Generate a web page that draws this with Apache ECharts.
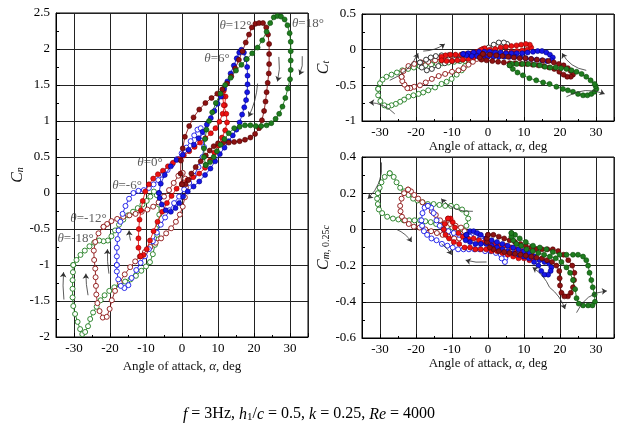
<!DOCTYPE html>
<html><head><meta charset="utf-8">
<script src="https://cdn.jsdelivr.net/npm/echarts@6/dist/echarts.min.js"></script>
<style>html,body{margin:0;padding:0;background:#fff}#c{width:618px;height:430px}</style>
</head><body><div id="c"></div><script>
// ---------- axis ranges / ticks ----------
const alphaRange = [-35, 35];
const alphaTicks = [-30, -20, -10, 0, 10, 20, 30];
const cnRange = [-2, 2.5, 0.5];
const ctRange = [-1, 0.5, 0.5];
const cmRange = [-0.6, 0.4, 0.2];

// ---------- Cn vs alpha loops ----------
const cnTheta18 = [[6.6,0.39],[6.1,0.5],[6.1,0.62],[6.4,0.75],[6.8,0.88],[7.5,1.0],[8.4,1.12],[9.4,1.25],[10.7,1.38],[12,1.5],[13.5,1.6],[15,1.7],[16.5,1.78],[18,1.86],[19.5,1.94],[21,2.02],[22.3,2.12],[23.5,2.24],[24.5,2.36],[25.5,2.44],[26.5,2.46],[27.5,2.45],[28.5,2.41],[29.3,2.33],[29.9,2.22],[30.2,2.1],[30.2,1.97],[30.2,1.84],[30.2,1.71],[30,1.58],[29.4,1.45],[28.7,1.32],[27.9,1.2],[27,1.1],[26,1.03],[24.8,0.97],[23.5,0.94],[22,0.93],[20.5,0.93],[19,0.94],[17.5,0.94],[16,0.92],[14.5,0.9],[13,0.83],[11.8,0.75],[10.7,0.67],[9.7,0.58],[8.8,0.5],[7.8,0.43],[6.6,0.39]];
const cnTheta12 = [[0,0.12],[-0.4,0.27],[-0.3,0.45],[0.2,0.62],[0.8,0.78],[2,0.93],[3.2,1.05],[4.8,1.16],[6.5,1.25],[8.2,1.32],[9.8,1.38],[11.2,1.44],[12.5,1.52],[13.7,1.62],[14.8,1.73],[15.8,1.85],[16.8,1.97],[17.7,2.09],[18.6,2.2],[19.4,2.3],[20.4,2.35],[21.4,2.36],[22.5,2.36],[23.4,2.3],[23.9,2.2],[24.2,2.07],[24.2,1.93],[24.2,1.79],[24.1,1.66],[23.8,1.53],[23.5,1.4],[23.2,1.27],[22.8,1.14],[22.2,1.01],[21.4,0.9],[20.3,0.82],[19,0.77],[17.5,0.74],[16,0.72],[14.5,0.71],[13,0.7],[11.5,0.7],[10,0.69],[8.8,0.65],[7.7,0.59],[6.6,0.52],[5.2,0.44],[3.8,0.36],[2.6,0.27],[1.8,0.18],[1,0.12],[0,0.12]];
const cnTheta6 = [[-6.4,0],[-5.9,0.13],[-4.8,0.25],[-3.1,0.37],[-1.5,0.46],[0.2,0.53],[1.8,0.6],[3.3,0.67],[4.6,0.76],[5.7,0.85],[6.9,0.95],[8,1.04],[9,1.14],[9.9,1.24],[10.8,1.34],[11.7,1.45],[12.6,1.55],[13.5,1.66],[14.4,1.77],[15.2,1.87],[15.9,1.95],[16.5,1.99],[17.2,1.95],[17.8,1.86],[18.1,1.75],[18.2,1.63],[18.2,1.51],[18.1,1.4],[17.8,1.29],[17.3,1.19],[16.7,1.09],[16,0.98],[15.1,0.88],[14.1,0.8],[13,0.72],[11.8,0.63],[10.5,0.54],[9.2,0.44],[7.9,0.34],[6.4,0.25],[4.8,0.16],[3.2,0.09],[1.6,0.02],[0.3,-0.05],[-0.8,-0.14],[-1.8,-0.21],[-3.1,-0.26],[-4.5,-0.24],[-5.6,-0.16],[-6.2,-0.07],[-6.4,0]];
const cnTheta0 = [[-11.5,-0.88],[-12.1,-0.76],[-12.1,-0.63],[-12,-0.5],[-11.8,-0.37],[-11.4,-0.24],[-10.9,-0.11],[-10.2,0.02],[-9.2,0.12],[-8,0.2],[-6.7,0.26],[-5.3,0.31],[-3.9,0.37],[-2.5,0.42],[-1,0.47],[0.5,0.52],[2,0.58],[3.5,0.64],[5,0.7],[6.5,0.76],[8,0.83],[9.3,0.9],[10.4,0.99],[11.3,1.1],[11.9,1.22],[12.1,1.34],[11.6,1.42],[11.3,1.34],[11.6,1.22],[12.3,1.1],[12.5,0.98],[12,0.87],[11.1,0.77],[10.1,0.66],[9,0.56],[7.8,0.45],[6.4,0.35],[4.8,0.27],[3.1,0.22],[1.5,0.18],[0,0.13],[-1.5,0.06],[-2.9,-0.04],[-4.2,-0.14],[-5.5,-0.26],[-6.8,-0.4],[-7.9,-0.53],[-8.9,-0.66],[-9.8,-0.78],[-10.7,-0.86],[-11.5,-0.88]];
const cnThetaM6 = [[-18.1,-1.0],[-18.1,-0.88],[-18.1,-0.76],[-17.9,-0.64],[-17.6,-0.52],[-17.1,-0.4],[-16.5,-0.29],[-15.7,-0.18],[-14.7,-0.08],[-13.5,0.0],[-12.1,0.03],[-10.6,0.04],[-9.2,0.07],[-7.9,0.12],[-6.6,0.18],[-5.3,0.25],[-4,0.32],[-2.7,0.4],[-1.4,0.47],[-0.1,0.55],[1.2,0.63],[2.4,0.72],[3.4,0.8],[4.3,0.88],[5.2,0.9],[5.9,0.78],[6.1,0.64],[5.7,0.5],[4.6,0.36],[3.3,0.24],[2,0.14],[0.6,0.05],[-0.8,-0.05],[-2.2,-0.14],[-3.5,-0.24],[-4.7,-0.34],[-5.9,-0.44],[-7,-0.55],[-8.1,-0.67],[-9.2,-0.78],[-10.3,-0.88],[-11.5,-0.97],[-12.7,-1.07],[-14,-1.18],[-14.9,-1.28],[-16,-1.32],[-17,-1.29],[-17.7,-1.2],[-18.1,-1.09],[-18.1,-1.0]];
const cnThetaM12 = [[-21.8,-0.47],[-23.2,-0.56],[-24.1,-0.68],[-24.5,-0.8],[-24.4,-0.93],[-24.1,-1.05],[-24,-1.17],[-23.9,-1.29],[-23.8,-1.41],[-23.5,-1.53],[-22.9,-1.64],[-22,-1.73],[-20.9,-1.72],[-20.1,-1.61],[-19.5,-1.49],[-18.6,-1.36],[-17.3,-1.24],[-15.9,-1.13],[-14.4,-1.03],[-13,-0.95],[-11.7,-0.88],[-10.3,-0.82],[-8.8,-0.75],[-7.3,-0.69],[-5.8,-0.63],[-4.4,-0.56],[-3,-0.49],[-1.7,-0.4],[-0.6,-0.3],[0.2,-0.19],[0.8,-0.06],[1.1,0.08],[0.9,0.2],[0.2,0.28],[-1,0.24],[-2.3,0.14],[-3.6,0.04],[-5,-0.05],[-6.5,-0.13],[-8,-0.19],[-9.6,-0.23],[-11.2,-0.26],[-12.9,-0.29],[-14.6,-0.31],[-16.3,-0.33],[-18,-0.36],[-19.6,-0.39],[-20.8,-0.43],[-21.8,-0.47]];
const cnThetaM18 = [[-30.2,-1.0],[-30.3,-1.1],[-30.4,-1.21],[-30.4,-1.33],[-30.4,-1.45],[-30.2,-1.57],[-29.7,-1.68],[-29,-1.79],[-28.3,-1.89],[-27.7,-1.96],[-26.9,-1.93],[-26.1,-1.85],[-25.5,-1.75],[-24.7,-1.66],[-23.7,-1.58],[-22.6,-1.49],[-21.5,-1.42],[-20.2,-1.36],[-18.8,-1.31],[-17.3,-1.27],[-15.8,-1.23],[-14.3,-1.2],[-12.8,-1.15],[-11.3,-1.08],[-10,-1.02],[-8.9,-0.96],[-8.1,-0.85],[-7.5,-0.72],[-6.9,-0.58],[-6.5,-0.44],[-6.3,-0.3],[-6.4,-0.16],[-7,-0.03],[-7.8,0.02],[-8.8,-0.05],[-9.8,-0.11],[-11,-0.16],[-12.3,-0.21],[-13.6,-0.26],[-15,-0.31],[-16.3,-0.37],[-17.5,-0.44],[-18.6,-0.52],[-19.6,-0.6],[-20.6,-0.66],[-21.8,-0.67],[-23,-0.66],[-24.4,-0.69],[-25.7,-0.74],[-27,-0.8],[-28.2,-0.86],[-29.3,-0.93],[-30.2,-1.0]];

// ---------- Ct vs alpha loops ----------
const ctThetaM18 = [[-30.5,-0.55],[-30,-0.47],[-29.3,-0.42],[-28.2,-0.38],[-26.8,-0.35],[-25.3,-0.32],[-23.8,-0.29],[-22.2,-0.27],[-20.6,-0.25],[-19,-0.23],[-17.4,-0.22],[-15.8,-0.21],[-14.2,-0.2],[-12.6,-0.19],[-11,-0.18],[-9.4,-0.17],[-7.8,-0.16],[-6.3,-0.16],[-5.4,-0.19],[-6.4,-0.23],[-7.3,-0.29],[-8.7,-0.35],[-10.1,-0.41],[-11.5,-0.45],[-12.9,-0.48],[-14.7,-0.53],[-16.6,-0.57],[-18,-0.6],[-19.3,-0.62],[-20.7,-0.64],[-22.1,-0.66],[-23.3,-0.7],[-24.4,-0.73],[-25.6,-0.76],[-26.8,-0.78],[-27.8,-0.8],[-28.8,-0.78],[-29.9,-0.72],[-30.5,-0.64],[-30.5,-0.55]];
const ctThetaM12 = [[-24,-0.38],[-23.5,-0.3],[-22.1,-0.23],[-20.5,-0.2],[-18.5,-0.18],[-16.6,-0.17],[-14.7,-0.15],[-12.9,-0.13],[-11,-0.12],[-9.2,-0.11],[-7.4,-0.09],[-5.6,-0.07],[-3.8,-0.04],[-2.2,-0.01],[-1.4,0.01],[-1.8,-0.04],[-3.1,-0.13],[-4.2,-0.17],[-5.4,-0.21],[-6.8,-0.26],[-8.2,-0.29],[-10,-0.31],[-11.9,-0.34],[-13.7,-0.37],[-15.6,-0.41],[-17.3,-0.46],[-18.9,-0.5],[-20.5,-0.52],[-21.6,-0.54],[-22.4,-0.54],[-23.2,-0.49],[-23.8,-0.44],[-24,-0.38]];
const ctThetaM6 = [[-18.9,-0.18],[-18.4,-0.25],[-17,-0.29],[-15.6,-0.27],[-13.8,-0.23],[-12,-0.19],[-10,-0.16],[-8,-0.14],[-6,-0.12],[-4,-0.1],[-2,-0.08],[0,-0.06],[1.8,-0.03],[3.4,0.0],[4.8,0.04],[5.3,0.08],[4.4,0.1],[3,0.1],[1.6,0.07],[0.2,0.03],[-1.5,-0.01],[-3.4,-0.04],[-5.3,-0.06],[-7.2,-0.07],[-9.1,-0.08],[-11,-0.08],[-12.9,-0.08],[-14.5,-0.09],[-15.9,-0.11],[-17.2,-0.14],[-18.9,-0.18]];
const ctTheta0 = [[-12.9,-0.15],[-11.5,-0.16],[-10,-0.16],[-8.5,-0.15],[-7,-0.14],[-5.5,-0.13],[-4,-0.11],[-2.5,-0.1],[-1,-0.08],[0.5,-0.07],[2,-0.06],[3.5,-0.05],[5,-0.04],[6.5,-0.03],[8,-0.02],[9.5,-0.01],[10.9,0.0],[12,0.03],[11.6,0.07],[10.5,0.08],[9.2,0.07],[7.9,0.06],[6.5,0.05],[5,0.04],[3.5,0.03],[2,0.01],[0.5,0.0],[-0.9,0.02],[-1.8,0.0],[-3,-0.03],[-4.5,-0.05],[-6,-0.06],[-7.5,-0.07],[-9,-0.07],[-10.5,-0.07],[-11.8,-0.08],[-12.9,-0.1],[-12.9,-0.15]];
const ctTheta6 = [[-6.9,-0.06],[-5.5,-0.05],[-4,-0.04],[-2.5,-0.03],[-1,-0.03],[0.5,-0.03],[2,-0.04],[3.5,-0.04],[5,-0.05],[6.5,-0.05],[8,-0.05],[9.5,-0.05],[11,-0.04],[12.5,-0.03],[13.8,-0.02],[15,-0.02],[16.2,-0.04],[17.2,-0.07],[18,-0.11],[17.6,-0.15],[16.4,-0.16],[15,-0.15],[13.5,-0.14],[12,-0.13],[10.5,-0.12],[9,-0.11],[7.5,-0.1],[6,-0.1],[4.5,-0.1],[3,-0.1],[1.5,-0.1],[0,-0.1],[-1.5,-0.1],[-3,-0.09],[-4.5,-0.09],[-6,-0.08],[-6.9,-0.06]];
const ctTheta12 = [[-1.4,-0.06],[0.5,-0.07],[2.3,-0.08],[4,-0.09],[5.6,-0.1],[7.2,-0.11],[8.8,-0.12],[10.4,-0.12],[12,-0.13],[13.6,-0.14],[15.2,-0.15],[16.8,-0.16],[18.3,-0.18],[19.7,-0.2],[21,-0.22],[22.2,-0.26],[23,-0.3],[23.6,-0.35],[23,-0.38],[22,-0.38],[21,-0.35],[19.8,-0.31],[18.4,-0.27],[17,-0.25],[15.5,-0.23],[14,-0.22],[12.4,-0.21],[10.8,-0.2],[9.2,-0.2],[7.6,-0.19],[6,-0.19],[4.4,-0.18],[2.8,-0.17],[1.2,-0.16],[-0.4,-0.15],[-1.8,-0.14],[-2.3,-0.11],[-1.4,-0.06]];
const ctTheta18 = [[6,-0.22],[6.9,-0.27],[8.2,-0.32],[9.7,-0.36],[11.5,-0.4],[13.4,-0.43],[15.3,-0.46],[17.1,-0.48],[19,-0.52],[20.8,-0.55],[22.2,-0.57],[23.6,-0.59],[25,-0.62],[26.4,-0.64],[27.6,-0.64],[28.7,-0.62],[29.6,-0.59],[30.1,-0.55],[29.9,-0.51],[29.6,-0.48],[28.5,-0.43],[27.3,-0.38],[26,-0.34],[24.6,-0.31],[23.2,-0.29],[21.8,-0.27],[20.3,-0.26],[18.8,-0.25],[17.3,-0.25],[15.8,-0.24],[14.4,-0.22],[12.8,-0.21],[11.2,-0.2],[9.6,-0.2],[8,-0.2],[6.6,-0.2],[6,-0.22]];

// ---------- Cm,0.25c vs alpha loops ----------
const cmThetaM18 = [[-27.3,0.31],[-28.7,0.29],[-29.6,0.26],[-30.1,0.23],[-30.6,0.2],[-30.8,0.17],[-30.6,0.14],[-30.3,0.11],[-29.4,0.09],[-28,0.07],[-26.4,0.06],[-24.9,0.055],[-23.4,0.05],[-21.9,0.05],[-20.4,0.05],[-18.9,0.05],[-17.4,0.045],[-15.9,0.04],[-14.4,0.03],[-12.9,0.02],[-11.4,0.015],[-9.9,0.01],[-8.4,0.005],[-7,0.0],[-6,0.02],[-5.5,0.06],[-6,0.09],[-7.2,0.11],[-8.7,0.125],[-10.3,0.13],[-11.9,0.13],[-13.5,0.135],[-15.1,0.14],[-16.7,0.14],[-18.2,0.15],[-19.6,0.16],[-20.8,0.17],[-22.1,0.19],[-23.3,0.21],[-24.4,0.23],[-25.4,0.26],[-26.2,0.29],[-27.3,0.31]];
const cmThetaM12 = [[-22.2,0.22],[-23.3,0.2],[-24,0.17],[-24.4,0.13],[-24.3,0.1],[-23.9,0.07],[-23.1,0.05],[-22,0.03],[-20.6,0.015],[-19,0.01],[-17.4,0.0],[-15.8,-0.01],[-14.2,-0.02],[-12.6,-0.03],[-11,-0.04],[-9.4,-0.05],[-8,-0.05],[-6.8,-0.04],[-6.5,-0.01],[-7.5,0.01],[-9,0.02],[-10.5,0.03],[-12,0.035],[-13.3,0.05],[-14.5,0.08],[-15.6,0.1],[-16.9,0.13],[-18.2,0.15],[-19.4,0.17],[-20.5,0.19],[-21.4,0.21],[-22.2,0.22]];
const cmThetaM6 = [[-16.7,0.13],[-17.6,0.12],[-18.2,0.09],[-18.5,0.05],[-18.3,0.02],[-17.8,-0.01],[-16.9,-0.03],[-15.7,-0.05],[-14.3,-0.06],[-12.8,-0.08],[-11.3,-0.09],[-9.8,-0.1],[-8.3,-0.11],[-6.8,-0.11],[-5.3,-0.11],[-3.8,-0.11],[-2.3,-0.11],[-0.8,-0.12],[0.7,-0.12],[2.2,-0.13],[3.6,-0.14],[4.8,-0.16],[4.7,-0.18],[3.8,-0.16],[2.4,-0.1],[1,-0.07],[-0.5,-0.05],[-2,-0.04],[-3.5,-0.04],[-5,-0.04],[-6.5,-0.04],[-8,-0.03],[-9.5,-0.02],[-11,-0.01],[-12.3,0.0],[-13.4,0.02],[-14.3,0.05],[-15.1,0.09],[-15.8,0.12],[-16.7,0.13]];
const cmTheta0 = [[-11.1,0.06],[-12,0.03],[-12.3,0.0],[-11.8,-0.03],[-10.8,-0.05],[-9.5,-0.07],[-8,-0.08],[-6.5,-0.1],[-5,-0.1],[-3.5,-0.11],[-2,-0.11],[-0.5,-0.11],[1,-0.12],[2.5,-0.12],[4,-0.13],[5.5,-0.14],[7,-0.15],[8.5,-0.16],[10,-0.16],[11.5,-0.17],[12.5,-0.16],[12.2,-0.14],[11,-0.13],[9.5,-0.12],[8,-0.11],[6.5,-0.1],[5,-0.09],[3.5,-0.09],[2,-0.08],[0.5,-0.08],[-1,-0.07],[-2.5,-0.06],[-4,-0.05],[-5.5,-0.05],[-7,-0.04],[-8.2,-0.02],[-9.2,0.01],[-9.8,0.04],[-10.4,0.06],[-11.1,0.06]];
const cmTheta6 = [[-6,-0.03],[-5,-0.01],[-4,-0.01],[-3,-0.02],[-2,-0.03],[-0.5,-0.05],[1,-0.06],[2.5,-0.07],[4,-0.08],[5.5,-0.09],[7,-0.1],[8.5,-0.11],[10,-0.12],[11.5,-0.13],[13,-0.15],[14.3,-0.17],[15.7,-0.18],[17,-0.19],[17.6,-0.21],[17.4,-0.23],[16.7,-0.25],[15.6,-0.25],[14.8,-0.23],[14,-0.2],[12.8,-0.18],[11.4,-0.16],[10,-0.15],[8.5,-0.14],[7,-0.13],[5.5,-0.12],[4,-0.11],[2.5,-0.1],[1,-0.09],[-0.5,-0.08],[-2,-0.08],[-3.5,-0.08],[-5,-0.07],[-6.2,-0.06],[-6,-0.03]];
const cmTheta12 = [[0,-0.03],[1.5,-0.03],[3,-0.04],[4.5,-0.05],[6,-0.06],[7.5,-0.07],[9,-0.08],[10.5,-0.09],[12,-0.1],[13.5,-0.11],[15,-0.11],[16.5,-0.11],[18,-0.11],[19.5,-0.12],[21,-0.14],[22.3,-0.17],[23.4,-0.2],[24,-0.24],[23.9,-0.28],[23.6,-0.32],[23,-0.35],[22.2,-0.37],[21.2,-0.37],[20.4,-0.35],[20,-0.31],[19.9,-0.27],[19.8,-0.23],[19,-0.2],[17.8,-0.18],[16.4,-0.17],[15,-0.16],[13.5,-0.155],[12,-0.15],[10.5,-0.145],[9,-0.14],[7.5,-0.135],[6,-0.13],[4.5,-0.125],[3,-0.12],[1.5,-0.11],[0.5,-0.1],[-0.3,-0.07],[-0.3,-0.05],[0,-0.03]];
const cmTheta18 = [[6.5,-0.02],[7.5,-0.03],[8.8,-0.05],[10.5,-0.07],[12.5,-0.09],[14.4,-0.1],[16.2,-0.11],[18,-0.125],[19.9,-0.14],[21.8,-0.14],[23.6,-0.14],[25,-0.14],[26.4,-0.15],[27.3,-0.17],[27.8,-0.2],[28.2,-0.24],[28.7,-0.28],[29.1,-0.32],[29.6,-0.36],[29.7,-0.4],[29,-0.42],[27.8,-0.42],[26.4,-0.42],[25.2,-0.41],[24.6,-0.38],[24.2,-0.33],[23.6,-0.28],[22.8,-0.24],[21.8,-0.21],[20.4,-0.18],[18.8,-0.16],[17.2,-0.15],[15.6,-0.14],[14,-0.13],[12.4,-0.12],[10.7,-0.11],[9.2,-0.09],[7.9,-0.08],[7,-0.06],[6.5,-0.04],[6.5,-0.02]];

// ---------- annotations ----------
const thetaValues = [18, 12, 6, 0, -6, -12, -18];
const cnLabelAnchors = [[30.4,2.36],[19.4,2.33],[13.4,1.87],[-5.2,0.42],[-11,0.11],[-20.8,-0.36],[-24.4,-0.63]];
const cnArrows = [[[33.4,1.9],[32.6,1.64]],[[26.9,1.89],[26.5,1.55]],[[21,1.52],[18.5,1.06]],[[-32.8,-1.48],[-32.9,-1.1]],[[-26.1,-1.42],[-26.7,-1.12]],[[-20.3,-1.12],[-20.7,-0.78]],[[-14.3,-0.66],[-14.7,-0.52]]];
const ctArrows = [[[-27.3,-0.43],[-19.4,-0.05]],[[-18,-0.02],[-12,0.08]],[[27.3,-0.29],[20.6,-0.05]],[[21.8,-0.66],[32.4,-0.62]],[[-25.9,-0.9],[-33,-0.74]]];
const cmArrows = [[[-29.6,0.37],[-33.4,0.17]],[[-25.4,0.0],[-21.2,-0.07]],[[-4.2,0.1],[-13,0.17]],[[-12.9,-0.08],[-10.1,-0.14]],[[-0.4,-0.18],[-6.2,-0.17]],[[17.1,-0.32],[12.4,-0.21]],[[17.1,-0.32],[21.4,-0.44]],[[24.6,-0.46],[33,-0.34]]];

// ---------- styles ----------
const SERIF = '"Liberation Serif","Times New Roman",serif';
const COL = {g:'#1f7d1f', dr:'#8c1212', b:'#1616e8', r:'#ee1111', k:'#222222'};
const EDGE = {g:'#0c4a0c', dr:'#4f0000', b:'#000080', r:'#8a0000', k:'#000000'};

function loop(data, c, filled, gi) {
  return {
    type: 'line', xAxisIndex: gi, yAxisIndex: gi, data: data,
    symbol: 'circle', symbolSize: 5, showAllSymbol: true, animation: false,
    lineStyle: {color: COL[c], width: 0.9},
    itemStyle: {color: filled ? COL[c] : '#ffffff', borderColor: filled ? EDGE[c] : COL[c], borderWidth: filled ? 0.6 : 0.9},
    z: filled ? 3 : 2, silent: true
  };
}
function arrows(list, gi, curv) {
  return {
    type: 'lines', coordinateSystem: 'cartesian2d', xAxisIndex: gi, yAxisIndex: gi,
    data: list.map((p, i) => ({coords: p, lineStyle: {curveness: curv[i]}})),
    symbol: ['none', 'arrow'], symbolSize: 5, animation: false, silent: true,
    lineStyle: {color: '#333', width: 0.8, opacity: 1}, z: 5
  };
}
function xAxis(gi, gap) {
  return {
    type: 'value', gridIndex: gi, min: alphaRange[0], max: alphaRange[1], splitNumber: alphaTicks.length,
    name: 'Angle of attack, {i|α}, deg', nameLocation: 'middle', nameGap: gap,
    nameTextStyle: {fontFamily: SERIF, fontSize: 13, color: '#111', rich: {i: {fontFamily: SERIF, fontStyle: 'italic', fontSize: 13, color: '#111'}}},
    axisLine: {show: true, onZero: false, lineStyle: {color: '#000', width: 1}},
    axisTick: {show: true, inside: true, length: 4, lineStyle: {color: '#000'}},
    minorTick: {show: true, splitNumber: 2, length: 2, lineStyle: {color: '#000'}},
    axisLabel: {fontFamily: SERIF, fontSize: 13, color: '#000', margin: 5, showMinLabel: false, showMaxLabel: false,
      formatter: v => (alphaTicks.indexOf(v) >= 0 ? String(v) : '')},
    splitLine: {show: true, lineStyle: {color: '#222', width: 1}}
  };
}
function yAxis(gi, r, name, gap, rich, fmt) {
  return {
    type: 'value', gridIndex: gi, min: r[0], max: r[1], interval: r[2],
    name: name, nameLocation: 'middle', nameGap: gap, nameRotate: 90,
    nameTextStyle: {fontFamily: SERIF, fontSize: 16, color: '#111', rich: rich},
    axisLine: {show: true, onZero: false, lineStyle: {color: '#000', width: 1}},
    axisTick: {show: true, inside: true, length: 4, lineStyle: {color: '#000'}},
    minorTick: {show: true, splitNumber: 2, length: 3, lineStyle: {color: '#000'}},
    axisLabel: {fontFamily: SERIF, fontSize: 13, color: '#000', margin: 6, formatter: fmt},
    splitLine: {show: true, lineStyle: {color: '#222', width: 1}}
  };
}
const richC = {
  i: {fontFamily: SERIF, fontStyle: 'italic', fontSize: 16, color: '#111', verticalAlign: 'bottom', lineHeight: 18},
  s: {fontFamily: SERIF, fontStyle: 'italic', fontSize: 10, color: '#111', verticalAlign: 'bottom', lineHeight: 12},
  n: {fontFamily: SERIF, fontSize: 10, color: '#111', verticalAlign: 'bottom', lineHeight: 12}
};

const labelSeries = {
  type: 'scatter', xAxisIndex: 0, yAxisIndex: 0, symbolSize: 1, silent: true, animation: false, z: 6,
  itemStyle: {color: 'rgba(0,0,0,0)'},
  data: thetaValues.map((t, i) => ({
    value: cnLabelAnchors[i],
    label: {show: true, position: i === 0 ? 'right' : 'left', distance: 0,
      formatter: '{t|θ}=' + t + '°',
      fontFamily: SERIF, fontSize: 13, color: '#333',
      rich: {t: {fontFamily: SERIF, fontStyle: 'italic', fontSize: 13, color: '#333'}}}
  }))
};

const fmt1 = v => (Math.abs(v) < 1e-9 ? '0' : String(+v.toFixed(1)));

const chart = echarts.init(document.getElementById('c'), null, {renderer: 'canvas'});
chart.setOption({
  animation: false,
  backgroundColor: '#fff',
  grid: [
    {left: 56, top: 13, width: 252, height: 324, show: true, borderColor: '#000', borderWidth: 1, backgroundColor: 'transparent'},
    {left: 362, top: 14, width: 252, height: 107, show: true, borderColor: '#000', borderWidth: 1, backgroundColor: 'transparent'},
    {left: 362, top: 157, width: 252, height: 181, show: true, borderColor: '#000', borderWidth: 1, backgroundColor: 'transparent'}
  ],
  xAxis: [xAxis(0, 19), xAxis(1, 14), xAxis(2, 19)],
  yAxis: [
    yAxis(0, cnRange, '{i|C}{s|n}', 30, richC, fmt1),
    yAxis(1, ctRange, '{i|C}{s|t}', 30, richC, fmt1),
    yAxis(2, cmRange, '{i|C}{s|m}{n|, 0.25}{s|c}', 30, richC, fmt1)
  ],
  series: [
    loop(cnThetaM18, 'g', false, 0), loop(cnThetaM12, 'dr', false, 0), loop(cnThetaM6, 'b', false, 0),
    loop(cnTheta0, 'r', true, 0), loop(cnTheta6, 'b', true, 0), loop(cnTheta12, 'dr', true, 0), loop(cnTheta18, 'g', true, 0),
    loop(ctThetaM18, 'g', false, 1), loop(ctThetaM12, 'dr', false, 1), loop(ctThetaM6, 'k', false, 1),
    loop(ctTheta0, 'r', true, 1), loop(ctTheta6, 'b', true, 1), loop(ctTheta12, 'dr', true, 1), loop(ctTheta18, 'g', true, 1),
    loop(cmThetaM18, 'g', false, 2), loop(cmThetaM12, 'dr', false, 2), loop(cmThetaM6, 'b', false, 2),
    loop(cmTheta0, 'r', true, 2), loop(cmTheta6, 'b', true, 2), loop(cmTheta12, 'dr', true, 2), loop(cmTheta18, 'g', true, 2),
    labelSeries,
    arrows(cnArrows, 0, [0.15, 0.1, 0.1, 0.05, 0.05, 0.05, 0.05]),
    arrows(ctArrows, 1, [-0.2, -0.15, 0.25, 0.25, -0.2]),
    arrows(cmArrows, 2, [0.25, 0.15, 0.25, 0.1, 0.1, -0.15, 0.15, 0.3])
  ],
  graphic: [{
    type: 'text', left: 'center', top: 406,
    style: {
      text: '{i|f} = 3Hz, {i|h}{s|1}/{i|c} = 0.5, {i|k} = 0.25, {i|Re} = 4000',
      fontFamily: SERIF, fontSize: 16, fill: '#000',
      rich: {
        i: {fontFamily: SERIF, fontStyle: 'italic', fontSize: 16, fill: '#000', verticalAlign: 'bottom', lineHeight: 18},
        s: {fontFamily: SERIF, fontSize: 11, fill: '#000', verticalAlign: 'bottom', lineHeight: 14}
      }
    }
  }]
});
</script></body></html>
